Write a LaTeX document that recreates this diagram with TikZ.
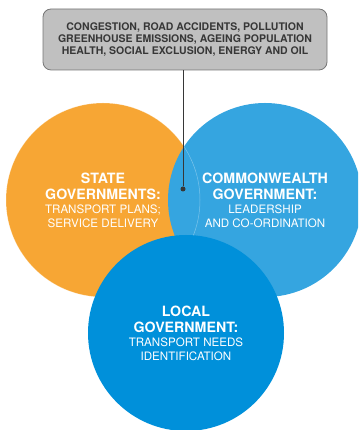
\documentclass[tikz,border=0pt]{standalone}
\usepackage{fontspec}
\setmainfont{TeX Gyre Heros}
\definecolor{govorange}{RGB}{247,166,52}
\definecolor{govblue}{RGB}{53,165,224}
\definecolor{govdeep}{RGB}{0,144,218}
\definecolor{govgray}{RGB}{192,192,192}
\definecolor{govedge}{RGB}{118,118,118}
\definecolor{govtext}{RGB}{55,55,55}
\usepackage{tikz}
\usetikzlibrary{positioning}
\newcommand{\titlefont}{\fontsize{14.2}{16}\selectfont\bfseries}
\newcommand{\subfont}{\fontsize{11.6}{14}\selectfont}

\begin{document}
\begin{tikzpicture}[x=1pt, y=1pt,
  govcircle/.style={circle, inner sep=0pt, minimum size=194pt, text=white,
    align=center, font=\subfont},
  issuebox/.style={draw=govedge, fill=govgray, rounded corners=8pt, line width=0.8pt,
    minimum width=284pt, minimum height=61pt, align=center, text=govtext,
    font=\fontsize{10.5}{12}\selectfont\bfseries}]

\useasboundingbox (0,0) rectangle (358,430);
\clip (0,0) rectangle (358,430);

% the three levels of government
\node[govcircle, fill=govorange] (state) at (103,230) {%
  {\titlefont STATE}\\[2pt]
  {\titlefont GOVERNMENTS:}\\
  TRANSPORT PLANS;\\
  SERVICE DELIVERY};

\node[govcircle, fill=govblue] (cwealth) at (265,230) {%
  {\titlefont COMMONWEALTH}\\[2pt]
  {\titlefont GOVERNMENT:}\\
  LEADERSHIP\\
  AND CO-ORDINATION};

% faint edge of the state circle
\draw[white, opacity=0.35, line width=0.5pt] (state.center) circle[radius=97];

\node[govcircle, fill=govdeep, minimum size=196pt] (local) at (186,97) {%
  {\titlefont LOCAL}\\[2pt]
  {\titlefont GOVERNMENT:}\\
  TRANSPORT NEEDS\\
  IDENTIFICATION};

% issues box and its pointer
\node[issuebox] (issues) at (185,390.5) {%
  CONGESTION, ROAD ACCIDENTS, POLLUTION\\
  GREENHOUSE EMISSIONS, AGEING POPULATION\\
  HEALTH, SOCIAL EXCLUSION, ENERGY AND OIL};

\node[circle, fill=govtext, inner sep=0pt, minimum size=5pt] (dot) at (183,241) {};
\draw[govtext, line width=1pt] (dot) -- (dot |- issues.south);

\end{tikzpicture}
\end{document}
